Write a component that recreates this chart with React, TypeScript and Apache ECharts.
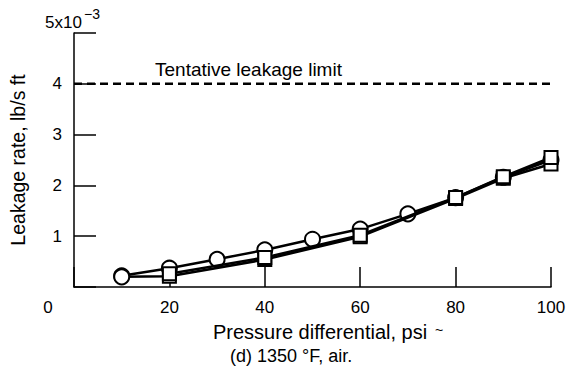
import React, { useEffect, useRef } from "react";
import * as echarts from "echarts";

const FONT = "'Liberation Sans', Arial, Helvetica, sans-serif";

// Pressure differential (psi) vs leakage rate (x10^-3 lb/s ft)
const circleRun: [number, number][] = [
  [10, 0.22], [20, 0.37], [30, 0.545], [40, 0.73], [50, 0.94],
  [60, 1.14], [70, 1.44], [80, 1.76], [90, 2.16], [100, 2.5],
];
const squareRunA: [number, number][] = [
  [20, 0.26], [40, 0.58], [60, 1.02], [80, 1.76], [90, 2.17], [100, 2.55],
];
const squareRunB: [number, number][] = [
  [10, 0.2], [20, 0.21], [40, 0.54], [60, 0.99], [80, 1.74], [90, 2.14], [100, 2.42],
];
const limitValue = 4;
const limitLine: [number, number][] = [[0, limitValue], [100, limitValue]];

export default function App() {
  const ref = useRef<HTMLDivElement>(null);
  useEffect(() => {
    const chart = echarts.init(ref.current!, null, { renderer: "svg" });
    const markerStyle = { color: "#fff", borderColor: "#000", borderWidth: 2 };
    chart.setOption({
      animation: false,
      backgroundColor: "#fff",
      textStyle: { fontFamily: FONT, color: "#000" },
      grid: { left: 66, right: 20, top: 33, bottom: 87 },
      xAxis: {
        type: "value",
        min: 0,
        max: 100,
        interval: 20,
        axisLine: { lineStyle: { color: "#000", width: 1.5 } },
        axisTick: { inside: true, length: 20, lineStyle: { color: "#000", width: 1.5 } },
        splitLine: { show: false },
        axisLabel: {
          color: "#000",
          fontSize: 17,
          fontFamily: FONT,
          margin: 12,
          formatter: (v: number) => (v === 0 ? "{z|0}" : String(v)),
          rich: { z: { fontSize: 17, fontFamily: FONT, color: "#000", padding: [0, 52, 0, 0] } },
        },
      },
      yAxis: {
        type: "value",
        min: 0,
        max: 5,
        interval: 1,
        name: "Leakage rate, lb/s ft",
        nameLocation: "middle",
        nameGap: 46,
        nameRotate: 90,
        nameTextStyle: { fontSize: 19.5, fontFamily: FONT, color: "#000" },
        axisLine: { show: true, lineStyle: { color: "#000", width: 1.5 } },
        axisTick: { inside: true, length: 22, lineStyle: { color: "#000", width: 1.5 } },
        splitLine: { show: false },
        axisLabel: {
          color: "#000",
          fontSize: 17,
          fontFamily: FONT,
          margin: 12,
          formatter: (v: number) => (v === 0 || v === 5 ? "" : String(v)),
        },
      },
      graphic: [
        { type: "text", left: 45, top: 14, style: { text: "5x10", font: `17px ${FONT}`, fill: "#000" } },
        { type: "text", left: 84, top: 7, style: { text: "\u22123", font: `14px ${FONT}`, fill: "#000" } },
        { type: "text", left: 155, top: 60, style: { text: "Tentative leakage limit", font: `19px ${FONT}`, fill: "#000" } },
        { type: "text", left: 213, top: 322, style: { text: "Pressure differential, psi", font: `20px ${FONT}`, fill: "#000" } },
        { type: "text", left: 435, top: 323, style: { text: "~", font: `14px ${FONT}`, fill: "#000" } },
        { type: "text", left: 230, top: 347, style: { text: "(d) 1350 \u00b0F, air.", font: `18px ${FONT}`, fill: "#000" } },
      ],
      series: [
        {
          type: "line",
          data: limitLine,
          symbol: "none",
          lineStyle: { color: "#000", width: 2.5, type: [8, 5] },
          z: 1,
        },
        {
          type: "line",
          data: circleRun,
          symbol: "circle",
          symbolSize: 15,
          itemStyle: markerStyle,
          lineStyle: { color: "#000", width: 2.5 },
          z: 2,
        },
        {
          type: "line",
          data: squareRunB.map((p, i) => (i === 0 ? { value: p, symbol: "circle", symbolSize: 15 } : p)),
          symbol: "rect",
          symbolSize: 13,
          itemStyle: markerStyle,
          lineStyle: { color: "#000", width: 2.5 },
          z: 3,
        },
        {
          type: "line",
          data: squareRunA,
          symbol: "rect",
          symbolSize: 13,
          itemStyle: markerStyle,
          lineStyle: { color: "#000", width: 2.5 },
          z: 4,
        },
      ],
    });
    return () => chart.dispose();
  }, []);
  return <div ref={ref} style={{ position: "absolute", left: 0, top: 0, width: 571, height: 374 }} />;
}
